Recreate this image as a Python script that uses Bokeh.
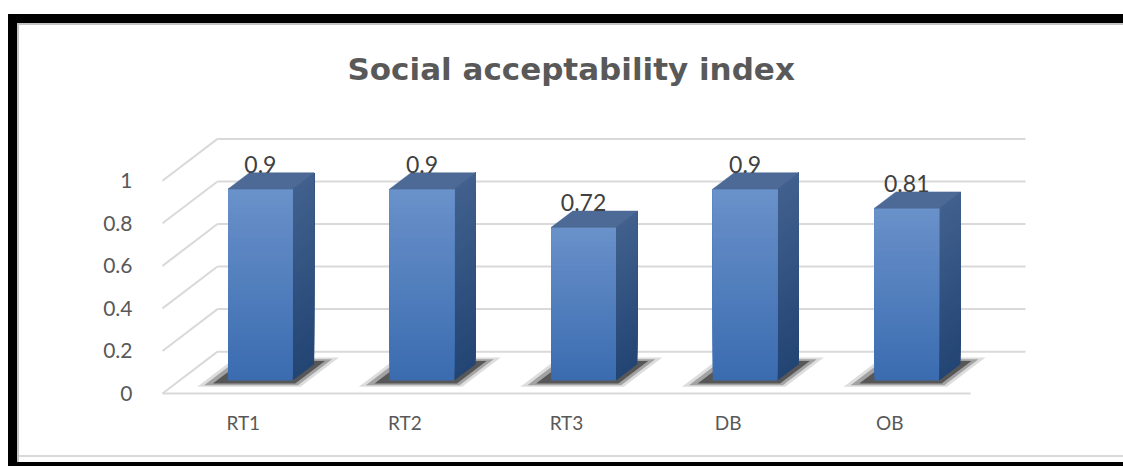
from bokeh.plotting import figure
from bokeh.models import Range1d, FixedTicker, NumeralTickFormatter, ColumnDataSource
from bokeh.embed import file_html
from bokeh.resources import INLINE
from bokeh.core.properties import value

# ---------------- data ----------------
categories = ["RT1", "RT2", "RT3", "DB", "OB"]
values = [0.9, 0.9, 0.72, 0.9, 0.81]
value_labels = ["0.9", "0.9", "0.72", "0.9", "0.81"]
y_ticks = [0, 0.2, 0.4, 0.6, 0.8, 1.0]
title_text = "Social acceptability  index"

# ---------------- layout constants (figure pixels) ----------------
OX, OY = 17, 23              # figure origin inside the page (inside the black frame)
W, H = 1123 - OX, 462 - OY
PX_X = 161.6   # pixels per category step
PX_Y = 213.5   # pixels per value unit
X0_PX = 162 - OX    # pixel of x=0.5 on the front floor edge
Y0_PX = 393 - OY    # pixel of value 0 on the front floor edge
L, R, T, B = 150 - OX, 1060 - OX, 110 - OY, 400 - OY

x_start = 0.5 - (X0_PX - L) / PX_X
x_end = x_start + (R - L) / PX_X
y_start = -(B - Y0_PX) / PX_Y
y_end = (Y0_PX - T) / PX_Y

DX = 55 / PX_X     # full depth (front floor -> back wall), x units
DY = 42 / PX_Y     # full depth, value units
F1, F2 = 0.31, 0.70  # bar front / back depth fractions
HW = 0.2           # bar half width

FONT = "Lato"
GRAY = "#595959"
GRID = "#d9d9d9"

p = figure(width=W, height=H, output_backend="svg", toolbar_location=None,
           x_range=Range1d(x_start, x_end), y_range=Range1d(y_start, y_end),
           min_border_left=L, min_border_right=W - R, min_border_top=T, min_border_bottom=H - B)
p.styles = {"margin-left": "%dpx" % OX, "margin-top": "%dpx" % OY,
            "outline": "9px solid black",
            "background-color": "white",
            "box-shadow": "inset 2px 2px 0 0 #c4c4c4, inset 0 -5px 0 0 #ffffff, inset 0 -7px 0 0 #d9d9d9"}
p.outline_line_color = None
p.background_fill_color = "white"
p.border_fill_color = None
p.grid.visible = False

n = len(categories)
xs_idx = list(range(1, n + 1))

# ---------- walls / floor gridlines ----------
gx, gy = [], []
for t in y_ticks:
    gx.append([0.5 + DX, n + 0.5 + DX]); gy.append([t + DY, t + DY])
    gx.append([0.5, 0.5 + DX]); gy.append([t, t + DY])
gx.append([0.5, n + 0.5]); gy.append([0, 0])
p.multi_line(gx, gy, line_color=GRID, line_width=2)

# ---------- soft shadows on the floor ----------
def floor_poly(i, a, b, fa, fb):
    return ([i + a + fa * DX, i + b + fa * DX, i + b + fb * DX, i + a + fb * DX],
            [fa * DY, fa * DY, fb * DY, fb * DY])

for (a, b, fa, fb, al) in [(-0.34, 0.30, 0.16, 0.86, 0.15),
                           (-0.31, 0.27, 0.20, 0.82, 0.30),
                           (-0.27, 0.24, 0.24, 0.78, 0.55)]:
    sx, sy = [], []
    for i in xs_idx:
        px_, py_ = floor_poly(i, a, b, fa, fb)
        sx.append(px_); sy.append(py_)
    p.patches(sx, sy, fill_color="#1a1a1a", fill_alpha=al, line_color=None)

# ---------- bars with gradient (overlapping bands, no seams) ----------
def lerp(c1, c2, t):
    a = [int(c1[k:k + 2], 16) for k in (1, 3, 5)]
    b = [int(c2[k:k + 2], 16) for k in (1, 3, 5)]
    return "#%02x%02x%02x" % tuple(round(a[j] + (b[j] - a[j]) * t) for j in range(3))

FRONT_BOT, FRONT_TOP = "#3a6cb0", "#6a91ca"
SIDE_BOT, SIDE_TOP = "#234574", "#41608d"
TOP_FACE = "#4d6995"
NB = 40

fl, fr, fb_, ft, fc = [], [], [], [], []
sxs, sys_, sc = [], [], []
for i, v in zip(xs_idx, values):
    for k in range(NB):
        y0 = v * k / NB
        tcol = (k + 0.5) / NB
        fl.append(i - HW + F1 * DX); fr.append(i + HW + F1 * DX)
        fb_.append(y0 + F1 * DY); ft.append(v + F1 * DY)
        fc.append(lerp(FRONT_BOT, FRONT_TOP, tcol))
        sxs.append([i + HW + F1 * DX, i + HW + F2 * DX, i + HW + F2 * DX, i + HW + F1 * DX])
        sys_.append([y0 + F1 * DY, y0 + F2 * DY, v + F2 * DY, v + F1 * DY])
        sc.append(lerp(SIDE_BOT, SIDE_TOP, tcol))

p.patches(sxs, sys_, fill_color=sc, line_color=None)
p.quad(left=fl, right=fr, bottom=fb_, top=ft, fill_color=fc, line_color=None)

tx, ty = [], []
for i, v in zip(xs_idx, values):
    tx.append([i - HW + F1 * DX, i + HW + F1 * DX, i + HW + F2 * DX, i - HW + F2 * DX])
    ty.append([v + F1 * DY, v + F1 * DY, v + F2 * DY, v + F2 * DY])
p.patches(tx, ty, fill_color=TOP_FACE, line_color=TOP_FACE, line_width=0.5)

# ---------- value labels ----------
src = ColumnDataSource(dict(x=[i + F1 * DX for i in xs_idx],
                            y=[v + F2 * DY for v in values],
                            t=value_labels))
p.text("x", "y", text="t", source=src, text_align="center", text_baseline="bottom",
       text_font=value(FONT), text_font_size="23px", text_color="#404040", y_offset=0)

# ---------- axes ----------
p.yaxis.ticker = FixedTicker(ticks=y_ticks)
p.yaxis.formatter = NumeralTickFormatter(format="0.[0]")
p.yaxis.axis_line_color = None
p.yaxis.major_tick_line_color = None
p.yaxis.minor_tick_line_color = None
p.yaxis.major_label_standoff = 12
p.yaxis.major_label_text_font = FONT
p.yaxis.major_label_text_font_size = "21px"
p.yaxis.major_label_text_color = GRAY

p.xaxis.ticker = FixedTicker(ticks=xs_idx)
p.xaxis.major_label_overrides = {i: c for i, c in zip(xs_idx, categories)}
p.xaxis.axis_line_color = None
p.xaxis.major_tick_line_color = None
p.xaxis.minor_tick_line_color = None
p.xaxis.major_label_standoff = 4
p.xaxis.major_label_text_font = FONT
p.xaxis.major_label_text_font_size = "19px"
p.xaxis.major_label_text_color = GRAY

# ---------- title ----------
p.title.text = title_text
p.title.align = "left"
p.title.offset = (347 - OX) - L
p.title.standoff = 50
p.title.text_font = "DejaVu Sans"
p.title.text_font_size = "31px"
p.title.text_font_style = "bold"
p.title.text_color = GRAY

open("out.html", "w").write(file_html(p, INLINE))
